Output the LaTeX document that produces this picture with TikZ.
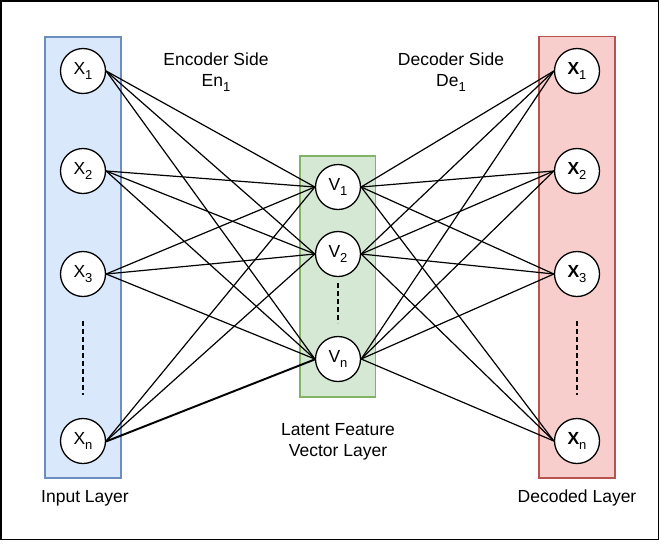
\documentclass[tikz,border=0pt]{standalone}
\usepackage{fontspec}
\setmainfont{Liberation Sans}
\newcommand{\sbs}[1]{\raisebox{-0.28em}{\fontsize{13}{13}\selectfont #1}}
\begin{document}
\begin{tikzpicture}[x=1pt,y=-1pt,
  neuron/.style={circle, draw, line width=1.3pt, fill=white, minimum size=45pt, inner sep=0pt, font=\fontsize{17.5}{20}\selectfont},
  conn/.style={line width=1.2pt},
  dots/.style={line width=1.2pt, dash pattern=on 5pt off 3pt},
  lbl/.style={font=\fontsize{17.5}{21}\selectfont, align=center, inner sep=0pt},
]
\definecolor{bfill}{HTML}{DAE8FC}\definecolor{bdraw}{HTML}{6C8EBF}
\definecolor{gfill}{HTML}{D5E8D4}\definecolor{gdraw}{HTML}{82B366}
\definecolor{rfill}{HTML}{F8CECC}\definecolor{rdraw}{HTML}{B85450}
\useasboundingbox (0,0) rectangle (661,544);
\draw[line width=1.5pt] (1,1) rectangle (658.5,539.5);
\draw[fill=bfill, draw=bdraw, line width=1.3pt] (45,37) rectangle (121,478);
\draw[fill=gfill, draw=gdraw, line width=1.3pt] (300,156) rectangle (375.5,397);
\draw[fill=rfill, draw=rdraw, line width=1.3pt] (539,36.5) rectangle (615,478);
% dotted continuations
\draw[dots] (83,321) -- (83,395);
\draw[dots] (577,321) -- (577,395);
\draw[dots] (338,283) -- (338,323);
% input nodes
\node[neuron] (x1) at (83,71) {X\sbs{1}};
\node[neuron] (x2) at (83,171) {X\sbs{2}};
\node[neuron] (x3) at (83,274) {X\sbs{3}};
\node[neuron] (xn) at (83,441) {X\sbs{n}};
% latent nodes
\node[neuron] (v1) at (338,187) {V\sbs{1}};
\node[neuron] (v2) at (338,254) {V\sbs{2}};
\node[neuron] (vn) at (338,359) {V\sbs{n}};
% output nodes
\node[neuron] (y1) at (577,71) {\textbf{X}\sbs{1}};
\node[neuron] (y2) at (577,171) {\textbf{X}\sbs{2}};
\node[neuron] (y3) at (577,274) {\textbf{X}\sbs{3}};
\node[neuron] (yn) at (577,441) {\textbf{X}\sbs{n}};
% connections
\foreach \a in {x1,x2,x3,xn}
  \foreach \b in {v1,v2,vn}
    \draw[conn] (\a.east) -- (\b.west);
\foreach \a in {v1,v2,vn}
  \foreach \b in {y1,y2,y3,yn}
    \draw[conn] (\a.east) -- (\b.west);
\draw[conn] ([yshift=-0.8pt]xn.east) -- ([yshift=-0.8pt]vn.west);
% labels
\node[lbl] (enc) at (216,72) {Encoder Side\\En\sbs{1}};
\node[lbl] (dec) at (451,72) {Decoder Side\\De\sbs{1}};
\node[lbl] (lat) at (338,442) {Latent Feature\\Vector Layer};
\node[lbl] (inl) at (85,498) {Input Layer};
\node[lbl] (del) at (577,498) {Decoded Layer};
\end{tikzpicture}
\end{document}
